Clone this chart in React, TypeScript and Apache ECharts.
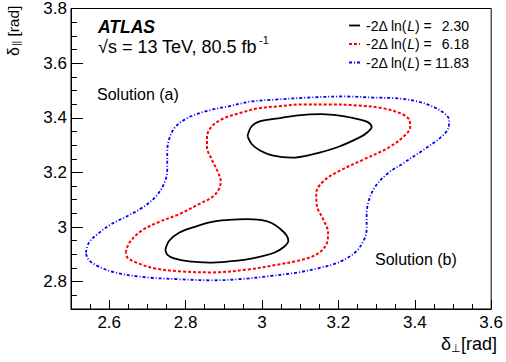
import React, { useEffect, useRef } from "react";
import * as echarts from "echarts";

// Axis ranges and tick values
const xRange = [2.5, 3.6];
const yRange = [2.7, 3.8];
const xMajorTicks = [2.6, 2.8, 3.0, 3.2, 3.4, 3.6];
const xMinorTicks = [2.55, 2.6, 2.65, 2.7, 2.75, 2.8, 2.85, 2.9, 2.95, 3.0, 3.05, 3.1, 3.15, 3.2, 3.25, 3.3, 3.35, 3.4, 3.45, 3.5, 3.55, 3.6];
const yMajorTicks = [2.8, 3.0, 3.2, 3.4, 3.6, 3.8];
const yMinorTicks = [2.75, 2.8, 2.85, 2.9, 2.95, 3.0, 3.05, 3.1, 3.15, 3.2, 3.25, 3.3, 3.35, 3.4, 3.45, 3.5, 3.55, 3.6, 3.65, 3.7, 3.75, 3.8];

// Contour levels (-2Δln(L))
const levelLabels = ["2.30", "6.18", "11.83"];

// -2Δln(L) = 2.30 : two islands
const contour230Upper = [
  [2.962, 3.333], [2.973, 3.369], [2.996, 3.388], [3.043, 3.398], [3.095, 3.409], [3.155, 3.413],
  [3.212, 3.406], [3.251, 3.395], [3.277, 3.384], [3.287, 3.366], [3.277, 3.348], [3.258, 3.330],
  [3.199, 3.293], [3.129, 3.265], [3.077, 3.254], [3.030, 3.261], [2.996, 3.279], [2.973, 3.304],
  [2.962, 3.333],
];
const contour230Lower = [
  [2.747, 2.917], [2.757, 2.950], [2.783, 2.979], [2.822, 3.000], [2.869, 3.019], [2.913, 3.026],
  [2.957, 3.029], [2.996, 3.026], [3.025, 3.015], [3.048, 2.993], [3.064, 2.970], [3.069, 2.950],
  [3.058, 2.928], [3.032, 2.906], [2.996, 2.892], [2.957, 2.881], [2.913, 2.874], [2.861, 2.870],
  [2.809, 2.874], [2.770, 2.885], [2.752, 2.899], [2.747, 2.917],
];
// -2Δln(L) = 6.18
const contour618 = [
  [2.643, 2.906], [2.653, 2.943], [2.684, 2.986], [2.731, 3.019], [2.783, 3.047], [2.835, 3.084],
  [2.869, 3.109], [2.887, 3.138], [2.892, 3.167], [2.884, 3.203], [2.869, 3.246], [2.856, 3.293],
  [2.856, 3.330], [2.869, 3.369], [2.900, 3.398], [2.939, 3.416], [2.991, 3.435], [3.043, 3.442],
  [3.108, 3.449], [3.173, 3.449], [3.251, 3.445], [3.316, 3.435], [3.368, 3.413], [3.386, 3.391],
  [3.388, 3.366], [3.375, 3.337], [3.334, 3.293], [3.264, 3.246], [3.199, 3.203], [3.160, 3.167],
  [3.142, 3.123], [3.144, 3.076], [3.160, 3.029], [3.173, 2.979], [3.168, 2.935], [3.142, 2.899],
  [3.095, 2.877], [3.043, 2.863], [2.965, 2.845], [2.869, 2.834], [2.783, 2.838], [2.718, 2.849],
  [2.671, 2.870], [2.648, 2.888], [2.643, 2.906],
];
// -2Δln(L) = 11.83
const contour1183 = [
  [2.539, 2.906], [2.547, 2.943], [2.570, 2.975], [2.606, 3.011], [2.653, 3.044], [2.692, 3.076],
  [2.723, 3.113], [2.744, 3.160], [2.752, 3.210], [2.752, 3.275], [2.757, 3.322], [2.773, 3.366],
  [2.809, 3.402], [2.861, 3.427], [2.913, 3.442], [2.973, 3.460], [3.043, 3.467], [3.121, 3.474],
  [3.217, 3.478], [3.290, 3.474], [3.355, 3.471], [3.406, 3.460], [3.440, 3.445], [3.474, 3.420],
  [3.490, 3.391], [3.487, 3.359], [3.466, 3.326], [3.419, 3.279], [3.368, 3.232], [3.329, 3.196],
  [3.297, 3.149], [3.279, 3.094], [3.274, 3.040], [3.274, 2.993], [3.266, 2.950], [3.243, 2.906],
  [3.199, 2.870], [3.147, 2.849], [3.095, 2.834], [3.017, 2.820], [2.939, 2.809], [2.869, 2.805],
  [2.783, 2.809], [2.697, 2.816], [2.614, 2.834], [2.562, 2.863], [2.544, 2.885], [2.539, 2.906],
];

const FONT = "'Liberation Sans', Arial, Helvetica, sans-serif";

const lineStyles = [
  { color: "#000000", width: 1.8, type: "solid" as any, dash: null as any },
  { color: "#ff0000", width: 2, type: [3, 2], dash: [3, 2] },
  { color: "#0000ff", width: 1.8, type: [3, 2, 1, 2], dash: [3, 2, 1, 2] },
];

function txt(x: number, y: number, text: string, size: number, extra: any = {}) {
  const align = extra.align || "left";
  const valign = extra.verticalAlign || "middle";
  return {
    type: "text",
    x,
    y,
    silent: true,
    style: {
      text,
      fill: "#000",
      fontSize: size,
      fontFamily: FONT,
      fontWeight: extra.fontWeight || "normal",
      fontStyle: extra.fontStyle || "normal",
      align,
      verticalAlign: valign,
      textAlign: align,
      textVerticalAlign: valign,
      rich: extra.rich,
    },
  };
}

export default function App() {
  const ref = useRef<HTMLDivElement>(null);
  useEffect(() => {
    document.body.style.margin = "0";
    if (!ref.current) return;
    const chart = echarts.init(ref.current, undefined, { renderer: "svg" });

    const contourSeries = [
      { data: contour230Upper, st: lineStyles[0] },
      { data: contour230Lower, st: lineStyles[0] },
      { data: contour618, st: lineStyles[1] },
      { data: contour1183, st: lineStyles[2] },
    ].map((c, i) => ({
      type: "line",
      name: "c" + i,
      data: c.data,
      xAxisIndex: 0,
      yAxisIndex: 0,
      symbol: "none",
      showSymbol: false,
      smooth: 0.35,
      silent: true,
      clip: true,
      lineStyle: { color: c.st.color, width: c.st.width, type: c.st.type },
    }));

    const legendRowsY = [25.5, 44, 62.5];
    const legendEls: any[] = [];
    levelLabels.forEach((lab, i) => {
      const st = lineStyles[i];
      const ls: any = { stroke: st.color, lineWidth: st.width };
      if (st.dash) ls.lineDash = st.dash;
      legendEls.push({
        type: "line",
        silent: true,
        shape: { x1: 349, y1: legendRowsY[i], x2: 360, y2: legendRowsY[i] },
        style: ls,
      });
      legendEls.push(
        txt(366, legendRowsY[i], "{n|-2Δ ln(}{i|L}{n|) =}", 14, {
          rich: {
            n: { fontSize: 14, fontFamily: FONT, fill: "#000" },
            i: { fontSize: 14, fontFamily: FONT, fontStyle: "italic", fill: "#000" },
          },
        })
      );
      legendEls.push(txt(469, legendRowsY[i], lab, 14, { align: "right" }));
    });

    const option: any = {
      animation: false,
      backgroundColor: "#ffffff",
      grid: {
        left: 71,
        top: 5,
        width: 425,
        height: 304,
        show: true,
        borderColor: "#000",
        borderWidth: 1,
        backgroundColor: "transparent",
        containLabel: false,
      },
      xAxis: [
        {
          type: "value",
          min: xRange[0],
          max: xRange[1],
          position: "bottom",
          axisLine: { show: true, onZero: false, lineStyle: { color: "#000", width: 1 } },
          axisTick: { show: true, inside: true, length: 9, customValues: xMajorTicks, lineStyle: { color: "#000", width: 1 } },
          axisLabel: { show: true, customValues: xMajorTicks, color: "#000", fontSize: 17, fontFamily: FONT, margin: 5 },
          splitLine: { show: false },
        },
        {
          type: "value",
          min: xRange[0],
          max: xRange[1],
          position: "bottom",
          axisLine: { show: false },
          axisTick: { show: true, inside: true, length: 5, customValues: xMinorTicks, lineStyle: { color: "#000", width: 1 } },
          axisLabel: { show: false },
          splitLine: { show: false },
        },
      ],
      yAxis: [
        {
          type: "value",
          min: yRange[0],
          max: yRange[1],
          position: "left",
          axisLine: { show: true, onZero: false, lineStyle: { color: "#000", width: 1 } },
          axisTick: { show: true, inside: true, length: 12, customValues: yMajorTicks, lineStyle: { color: "#000", width: 1 } },
          axisLabel: { show: true, customValues: yMajorTicks, color: "#000", fontSize: 17, fontFamily: FONT, margin: 4 },
          splitLine: { show: false },
        },
        {
          type: "value",
          min: yRange[0],
          max: yRange[1],
          position: "left",
          axisLine: { show: false },
          axisTick: { show: true, inside: true, length: 6, customValues: yMinorTicks, lineStyle: { color: "#000", width: 1 } },
          axisLabel: { show: false },
          splitLine: { show: false },
        },
      ],
      series: contourSeries,
      graphic: [
        txt(98, 26.5, "ATLAS", 17.5, { fontWeight: "bold", fontStyle: "italic" }),
        txt(98, 46.5, "√s = 13 TeV, 80.5 fb", 18),
        txt(259, 40, "-1", 11),
        txt(97, 94, "Solution (a)", 16),
        txt(375, 259, "Solution (b)", 16),
        ...legendEls,
        // x-axis title
        txt(497, 344, "{d|δ}{s|⊥}{r|[rad]}", 18, {
          align: "right",
          rich: {
            d: { fontSize: 18, fontFamily: FONT, fill: "#000" },
            s: { fontSize: 11, fontFamily: FONT, fill: "#000", verticalAlign: "bottom", padding: [6, 0, 0, 0] },
            r: { fontSize: 18, fontFamily: FONT, fill: "#000" },
          },
        }),
        // y-axis title (rotated)
        {
          type: "group",
          x: 13,
          y: 56,
          rotation: Math.PI / 2,
          children: [
            txt(0, 0, "{d|δ}{s|||}{r| [rad]}", 16, {
              rich: {
                d: { fontSize: 16, fontFamily: FONT, fill: "#000" },
                s: { fontSize: 10, fontFamily: FONT, fill: "#000", verticalAlign: "bottom", padding: [5, 0, 0, 1] },
                r: { fontSize: 15.5, fontFamily: FONT, fill: "#000" },
              },
            }),
          ],
        },
      ],
    };
    chart.setOption(option);
    return () => chart.dispose();
  }, []);
  return (
    <div
      ref={ref}
      style={{ width: 506, height: 362, position: "absolute", left: 0, top: 0, background: "#fff" }}
    />
  );
}
